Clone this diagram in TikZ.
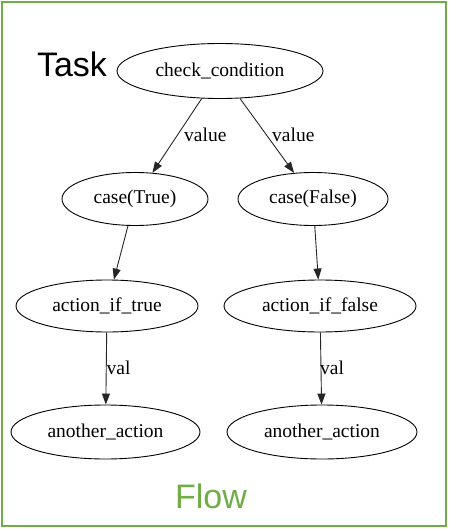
\documentclass[tikz,border=0pt]{standalone}
\usepackage{fontspec}
\setmainfont{Liberation Serif}
\newfontfamily\labelsans{Liberation Sans}
\usetikzlibrary{shapes.geometric,arrows.meta}
\definecolor{framegreen}{RGB}{112,173,71}
\tikzset{
  gnode/.style={ellipse,draw=black,line width=0.9pt,inner sep=0pt,font=\fontsize{19.5}{22}\selectfont},
  gedge/.style={draw=black!85,line width=0.9pt,-{Triangle[length=11pt,width=8pt]}},
  elabel/.style={font=\fontsize{19.5}{22}\selectfont,inner sep=1pt,anchor=west},
  bigsans/.style={font=\labelsans\fontsize{34}{38}\selectfont,inner sep=0pt}
}
\begin{document}
\begin{tikzpicture}[x=1pt,y=-1pt]
\useasboundingbox (0,0) rectangle (449,529);
\draw[framegreen,line width=2pt] (2,2) rectangle (445.5,525.5);

\node[bigsans] (task) at (72,64) {Task};
\node[bigsans,text=framegreen] (flow) at (211,496) {Flow};

\node[gnode,minimum width=206pt,minimum height=55pt] (cc) at (220,71) {check\_condition};
\node[gnode,minimum width=146pt,minimum height=53pt] (ct) at (135,199) {case(True)};
\node[gnode,minimum width=150pt,minimum height=53pt] (cf) at (313,199) {case(False)};
\node[gnode,minimum width=182pt,minimum height=52pt] (at) at (107,306) {action\_if\_true};
\node[gnode,minimum width=192pt,minimum height=52pt] (af) at (320,306) {action\_if\_false};
\node[gnode,minimum width=189pt,minimum height=54pt] (nt) at (105.5,432) {another\_action};
\node[gnode,minimum width=190pt,minimum height=54pt] (nf) at (322,432) {another\_action};

\draw[gedge] (cc) -- (ct);
\draw[gedge] (cc) -- (cf);
\draw[gedge] (ct) -- (at);
\draw[gedge] (cf) -- (af);
\draw[gedge] (at) -- (nt);
\draw[gedge] (af) -- (nf);

\node[elabel] (l1) at (183,135) {value};
\node[elabel] (l2) at (271,135) {value};
\node[elabel] (l3) at (105.5,368) {val};
\node[elabel] (l4) at (319,368) {val};
\end{tikzpicture}
\end{document}
